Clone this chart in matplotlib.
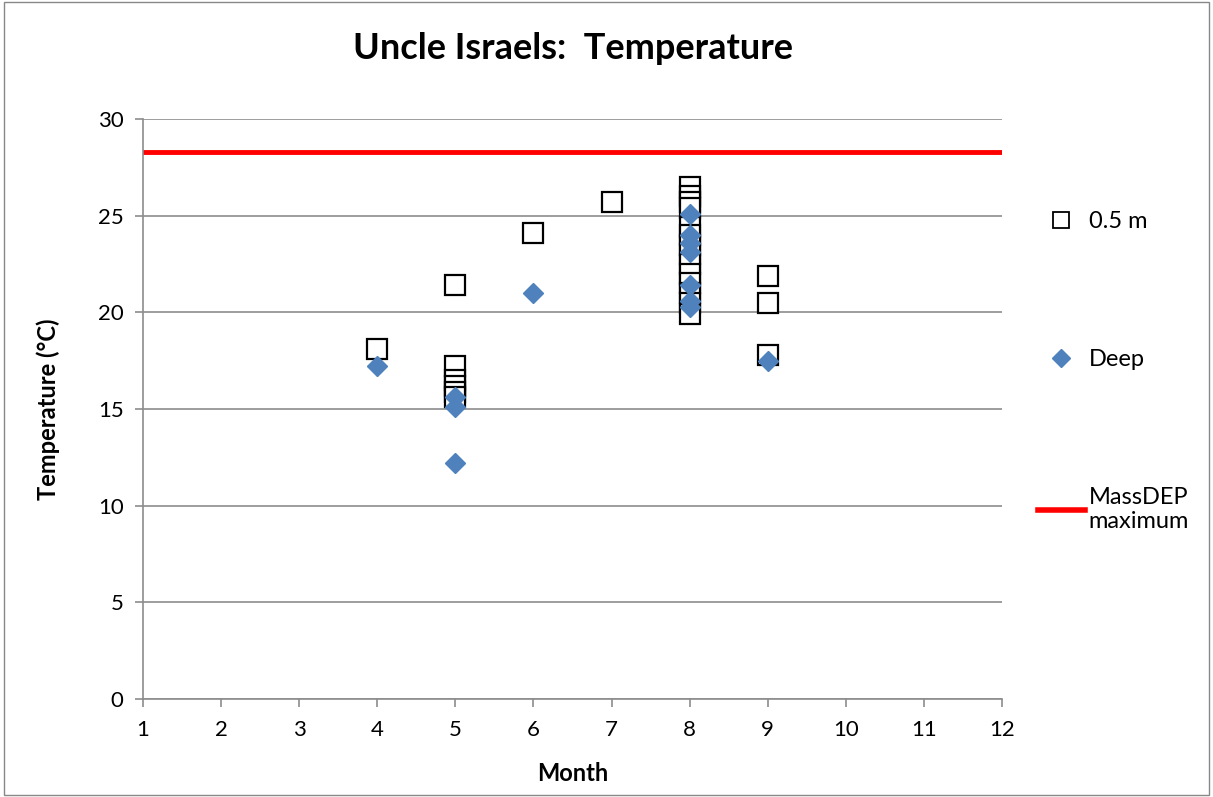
import matplotlib.pyplot as plt
from matplotlib.lines import Line2D
from matplotlib.patches import Rectangle

plt.rcParams['font.family'] = ['Lato', 'DejaVu Sans']

# 0.5 m readings (month, temperature degC)
shallow_month = [4, 5, 5, 5, 5, 5, 5, 6, 7,
                 8, 8, 8, 8, 8, 8, 8, 8, 8, 8, 8, 8, 8, 8,
                 9, 9, 9]
shallow_temp = [18.1, 21.4, 17.2, 16.5, 16.2, 15.9, 15.6, 24.1, 25.7,
                26.5, 26.0, 25.7, 25.4, 24.4, 24.0, 23.5, 23.0, 22.5, 22.0, 21.5, 21.0, 20.5, 19.9,
                21.9, 20.5, 17.8]

# deep readings
deep_month = [4, 5, 5, 5, 6, 8, 8, 8, 8, 8, 8, 8, 9]
deep_temp = [17.2, 15.6, 15.1, 12.2, 21.0, 25.1, 24.0, 23.6, 23.1, 21.4, 20.6, 20.3, 17.5]

massdep_max = 28.3

fig = plt.figure(figsize=(12.13, 7.97), dpi=100)
ax = fig.add_axes([0.1179, 0.123, 0.7082, 0.7277])

# outer chart border
fig.patches.append(Rectangle((0.003, 0.003), 0.994, 0.994, transform=fig.transFigure,
                             fill=False, edgecolor='#888888', linewidth=1))

ax.plot(shallow_month, shallow_temp, linestyle='none', marker='s', markersize=14,
        markerfacecolor='white', markeredgecolor='black', markeredgewidth=1.6, zorder=3)
ax.plot(deep_month, deep_temp, linestyle='none', marker='D', markersize=10.5,
        markerfacecolor='#4F81BD', markeredgecolor='#4F81BD', zorder=4)
ax.axhline(massdep_max, color='#FF0000', linewidth=3.5, zorder=2)

ax.set_xlim(1, 12)
ax.set_ylim(0, 30)
ax.set_xticks(range(1, 13))
ax.set_yticks(range(0, 31, 5))
ax.yaxis.grid(True, color='#8c8c8c', linewidth=1.2)
ax.set_axisbelow(True)
for s in ['top', 'right']:
    ax.spines[s].set_visible(False)
for s in ['left', 'bottom']:
    ax.spines[s].set_color('#8c8c8c')
    ax.spines[s].set_linewidth(1.2)
ax.tick_params(axis='both', labelsize=16, color='#8c8c8c', length=6, width=1.2)
ax.tick_params(axis='x', pad=9)
ax.tick_params(axis='y', pad=8)

ax.set_title('Uncle Israels:  Temperature', fontsize=26, fontweight='bold', pad=43)
ax.set_xlabel('Month', fontsize=17, fontweight='bold', labelpad=16)
ax.set_ylabel('Temperature (°C)', fontsize=17, fontweight='bold', labelpad=27)

handles = [
    Line2D([], [], linestyle='none', marker='s', markersize=11, markerfacecolor='white',
           markeredgecolor='black', markeredgewidth=1.3),
    Line2D([], [], linestyle='none', marker='D', markersize=9, markerfacecolor='#4F81BD',
           markeredgecolor='#4F81BD'),
    Line2D([], [], color='#FF0000', linewidth=4),
]
labels = ['0.5 m', 'Deep', 'MassDEP\nmaximum']
fig.legend(handles, labels, loc='upper left', bbox_to_anchor=(0.838, 0.762), frameon=False,
           fontsize=17, labelspacing=4.95, handlelength=2.0, handletextpad=0.15)

fig.savefig('out.png', dpi=100)
